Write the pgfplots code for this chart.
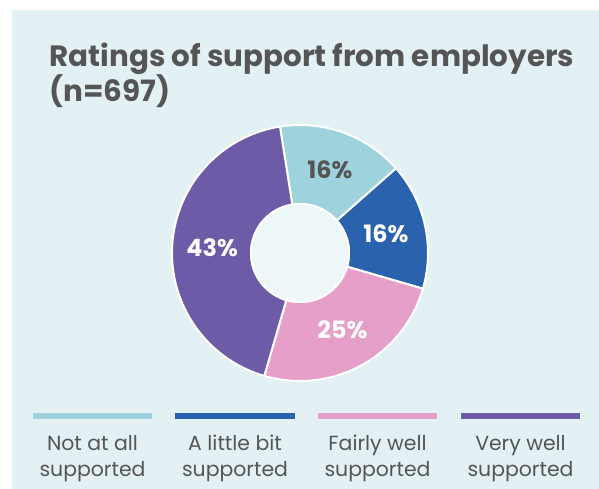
\documentclass[border=0pt]{standalone}
\usepackage{pgfplots}
\pgfplotsset{compat=1.18}
\usepackage{pgfplotstable}
\usetikzlibrary{calc}
\usepackage{fontspec}
\setmainfont{Poppins}
\definecolor{bg}{HTML}{E3F1F5}
\definecolor{hole}{HTML}{EDF6F8}
\definecolor{c1}{HTML}{9ED3DE}
\definecolor{c2}{HTML}{2B62AE}
\definecolor{c3}{HTML}{E59FC9}
\definecolor{c4}{HTML}{6E5BA7}
\definecolor{txt}{HTML}{555555}
\pgfplotstableread{
id value
1 16
2 16
3 25
4 43
}\data
\begin{document}
\begin{tikzpicture}
\pgfplotstablegetelem{0}{value}\of\data \let\vA\pgfplotsretval
\pgfplotstablegetelem{1}{value}\of\data \let\vB\pgfplotsretval
\pgfplotstablegetelem{2}{value}\of\data \let\vC\pgfplotsretval
\pgfplotstablegetelem{3}{value}\of\data \let\vD\pgfplotsretval
\pgfmathsetmacro\aA{99}
\pgfmathsetmacro\aB{\aA-3.6*\vA}
\pgfmathsetmacro\aC{\aB-3.6*\vB}
\pgfmathsetmacro\aD{\aC-3.6*\vC}
\pgfmathsetmacro\aE{\aD-3.6*\vD}
\pgfmathsetmacro\mA{(\aA+\aB)/2}
\pgfmathsetmacro\mB{(\aB+\aC)/2}
\pgfmathsetmacro\mC{(\aC+\aD)/2}
\pgfmathsetmacro\mD{(\aD+\aE)/2}
\def\R{128}\def\r{49}\def\cx{300}\def\cy{253}
\newcommand\sector[3]{%
  \fill[#1,draw=white,line width=2bp,line join=round]
    ($(axis cs:\cx,\cy)+(#2:\R bp)$) arc[start angle=#2,end angle=#3,radius=\R bp]
    -- ($(axis cs:\cx,\cy)+(#3:\r bp)$) arc[start angle=#3,end angle=#2,radius=\r bp] -- cycle;}
\newcommand\plabel[3]{%
  \node[font=\bfseries\fontsize{24}{28}\selectfont,text=#2] at ($(axis cs:\cx,\cy)+(#1:88bp)$) {#3\%};}
\newcommand\legtext[2]{%
  \node[anchor=base,font=\fontsize{20.5}{24}\selectfont,text=txt] at (axis cs:#1,450) {#2};
  \node[anchor=base,font=\fontsize{20.5}{24}\selectfont,text=txt] at (axis cs:#1,476) {supported};}
\begin{axis}[at={(0,0)},anchor=south west,scale only axis,width=599bp,height=489bp,
  xmin=0,xmax=599,ymin=0,ymax=489,y dir=reverse,hide axis,clip=false]
\fill[white] (axis cs:0,0) rectangle (axis cs:599,489);
\fill[bg] (axis cs:12,10) rectangle (axis cs:599,489);
\node[anchor=base west,font=\bfseries\fontsize{29.5}{34}\selectfont,text=txt] at (axis cs:46,67) {Ratings of support from employers};
\node[anchor=base west,font=\bfseries\fontsize{29.5}{34}\selectfont,text=txt] at (axis cs:46,101) {(n=697)};
\sector{c1}{\aA}{\aB}
\sector{c2}{\aB}{\aC}
\sector{c3}{\aC}{\aD}
\sector{c4}{\aD}{\aE}
\fill[hole,draw=white,line width=2bp] (axis cs:\cx,\cy) circle[radius=\r bp];
\plabel{\mA}{txt}{\vA}
\plabel{\mB}{white}{\vB}
\plabel{\mC}{white}{\vC}
\plabel{\mD}{white}{\vD}
\draw[c1,line width=6bp] (axis cs:33,416) -- (axis cs:152,416);
\draw[c2,line width=6bp] (axis cs:175,416) -- (axis cs:295,416);
\draw[c3,line width=6bp] (axis cs:318,416) -- (axis cs:437,416);
\draw[c4,line width=6bp] (axis cs:461,416) -- (axis cs:580,416);
\legtext{92.5}{Not at all}
\legtext{235}{A little bit}
\legtext{377.5}{Fairly well}
\legtext{520.5}{Very well}
\end{axis}
\end{tikzpicture}
\end{document}
